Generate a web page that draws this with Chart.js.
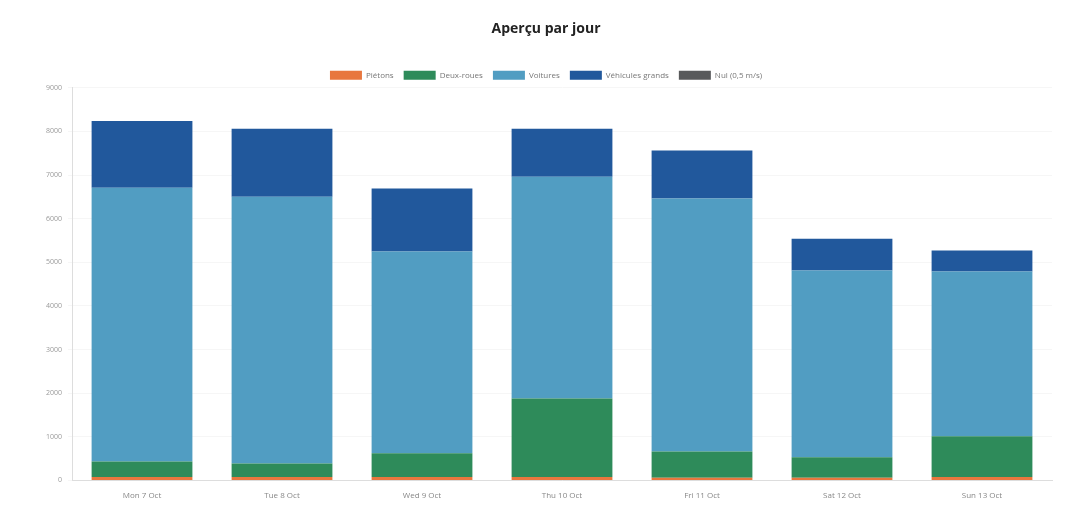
<!DOCTYPE html>
<html>
<head>
<meta charset="utf-8">
<script src="https://cdn.jsdelivr.net/npm/chart.js@4.4.1/dist/chart.umd.min.js"></script>
<style>
    html, body { margin: 0; padding: 0; background: #fff; }
    #wrap { width: 1082px; height: 505px; position: relative; }
</style>
</head>
<body>
<div id="wrap"><canvas id="dailyChart"></canvas></div>
<script>
// Jours de la semaine
const jours = ['Mon 7 Oct', 'Tue 8 Oct', 'Wed 9 Oct', 'Thu 10 Oct', 'Fri 11 Oct', 'Sat 12 Oct', 'Sun 13 Oct'];

// Comptages par catégorie
const pietons = [80, 80, 80, 80, 60, 60, 80];
const deuxRoues = [355, 310, 540, 1800, 605, 470, 930];
const voitures = [6275, 6110, 4625, 5080, 5795, 4280, 3780];
const vehiculesGrands = [1530, 1560, 1445, 1100, 1100, 730, 480];
const nul = [0, 0, 0, 0, 0, 0, 0];

const yTicks = [0, 1000, 2000, 3000, 4000, 5000, 6000, 7000, 8000, 9000];

const police = "'Open Sans', 'Noto Sans', sans-serif";

// Légende un peu moins espacée du graphique
const legendSpacing = {
    id: 'legendSpacing',
    beforeInit(chart) {
        const fitOrig = chart.legend.fit;
        chart.legend.fit = function () {
            fitOrig.bind(chart.legend)();
            this.height -= 2;
        };
    }
};

let dailyChart = new Chart(document.getElementById('dailyChart').getContext('2d'), {
    type: 'bar',
    data: {
        labels: jours,
        datasets: [
            { label: 'Piétons', data: pietons, backgroundColor: '#e8773e' },
            { label: 'Deux-roues', data: deuxRoues, backgroundColor: '#2e8b5a' },
            { label: 'Voitures', data: voitures, backgroundColor: '#519dc2' },
            { label: 'Véhicules grands', data: vehiculesGrands, backgroundColor: '#21589c' },
            { label: 'Nul (0,5 m/s)', data: nul, backgroundColor: '#58595b' }
        ]
    },
    plugins: [legendSpacing],
    options: {
        responsive: true,
        maintainAspectRatio: false,
        animation: false,
        layout: { padding: { left: 40, right: 30, top: 17, bottom: 1 } },
        plugins: {
            title: {
                display: true,
                text: 'Aperçu par jour',
                color: '#222',
                font: { family: police, size: 14, weight: 'bold' },
                padding: { top: 4, bottom: 23 }
            },
            legend: {
                labels: {
                    color: '#777',
                    boxWidth: 32,
                    boxHeight: 9,
                    font: { family: police, size: 8 }
                }
            },
            tooltip: { enabled: false }
        },
        scales: {
            x: {
                stacked: true,
                grid: { display: false },
                border: { color: '#ddd' },
                ticks: { color: '#888', font: { family: police, size: 8 } }
            },
            y: {
                stacked: true,
                min: 0,
                max: 9000,
                afterBuildTicks: axis => { axis.ticks = yTicks.map(v => ({ value: v })); },
                grid: { color: '#f6f6f6', tickLength: 4 },
                border: { color: '#ddd' },
                ticks: {
                    color: '#999',
                    padding: 6,
                    font: { family: police, size: 7 },
                    callback: v => String(v)
                }
            }
        }
    }
});
</script>
</body>
</html>
